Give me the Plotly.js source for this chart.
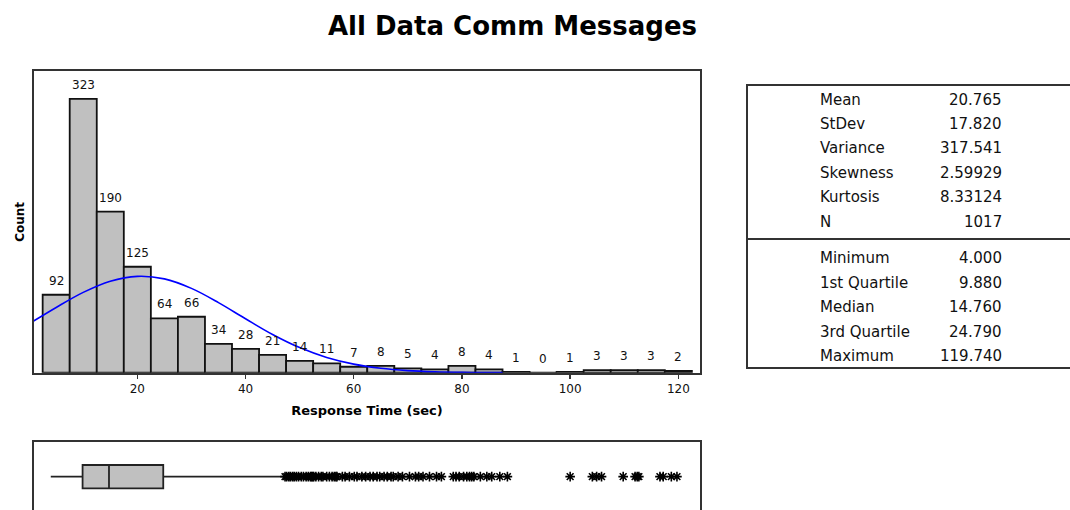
<!DOCTYPE html>
<html>
<head>
<meta charset="utf-8">
<script src="https://cdn.plot.ly/plotly-3.0.1.min.js"></script>
<style>html,body{margin:0;padding:0;background:#fff;}#chart{width:1070px;height:510px;}</style>
</head>
<body>
<div id="chart"></div>
<script>
// ---- data ----
const binCenters = [5,10,15,20,25,30,35,40,45,50,55,60,65,70,75,80,85,90,95,100,105,110,115,120];
const binCounts  = [92,323,190,125,64,66,34,28,21,14,11,7,8,5,4,8,4,1,0,1,3,3,3,2];

const curveX = [0,5,10,15,20,25,30,35,40,45,50,55,60,65,70,75,80,85,87.5];
const curveY = [57.7,77.0,94.8,108.0,113.7,110.7,99.5,82.7,63.6,45.1,29.6,18.0,10.1,5.2,2.5,1.1,0.45,0.15,0.1];

const boxMin = [4.0];
const boxQ1 = [9.88];
const boxMedian = [14.76];
const boxQ3 = [24.79];
const boxUpperWhisker = [46.7];

const outliers = [47.3,47.6,48.0,48.3,48.7,49.0,49.4,49.8,50.3,50.7,51.2,51.6,52.0,52.2,52.4,
  52.6,53.0,53.5,54.0,54.3,55.0,55.5,56.0,56.4,56.7,56.9,
  57.9,58.4,59.2,60.1,60.6,61.5,62.2,
  63.0,63.6,64.3,64.8,65.6,66.2,66.9,67.3,
  68.2,69.0,70.3,71.4,72.0,
  72.8,74.0,75.3,76.2,
  78.4,78.9,79.5,80.3,80.9,81.4,81.8,82.2,
  83.4,84.6,85.5,87.0,
  88.4,
  100.0,
  104.1,104.9,105.8,
  109.8,112.0,112.4,
  112.7,116.6,117.2,
  118.7,119.74];

const statLabels1 = ["Mean","StDev","Variance","Skewness","Kurtosis","N"];
const statValues1 = ["20.765","17.820","317.541","2.59929","8.33124","1017"];
const statLabels2 = ["Minimum","1st Quartile","Median","3rd Quartile","Maximum"];
const statValues2 = ["4.000","9.880","14.760","24.790","119.740"];

const chartTitle = "All Data Comm Messages";
const xTitle = "Response Time (sec)";
const yTitle = "Count";
const xTickVals = [20,40,60,80,100,120];

// ---- layout helpers (pixel -> paper) ----
const W = 1070, H = 510;
const px = v => v / W;
const py = v => 1 - v / H;
const FONT = "DejaVu Sans, Verdana, sans-serif";
const INK = "#111";
const FRAME = "#333";

const traces = [
  {
    type: "bar", x: binCenters, y: binCounts, width: 5,
    marker: {color: "#c0c0c0", line: {color: "#111", width: 1.8}},
    hoverinfo: "x+y", xaxis: "x", yaxis: "y"
  },
  {
    type: "scatter", mode: "lines", x: curveX, y: curveY,
    line: {color: "#0000ff", width: 1.6, shape: "spline"},
    xaxis: "x", yaxis: "y", cliponaxis: true
  },
  {
    type: "box", orientation: "h", y: [0],
    q1: boxQ1, median: boxMedian, q3: boxQ3,
    lowerfence: boxMin, upperfence: boxUpperWhisker,
    width: 0.7, whiskerwidth: 0, boxpoints: false,
    fillcolor: "#c0c0c0", line: {color: "#222", width: 1.8},
    xaxis: "x2", yaxis: "y2"
  },
  {
    type: "scatter", mode: "markers", x: outliers, y: outliers.map(() => 0),
    marker: {symbol: "asterisk-open", size: 8, color: "#000", line: {color: "#000", width: 1.6}},
    xaxis: "x2", yaxis: "y2"
  }
];

const annotations = [];
binCenters.forEach((c, i) => {
  annotations.push({
    x: c, y: binCounts[i], xref: "x", yref: "y", text: String(binCounts[i]),
    showarrow: false, yanchor: "middle", xanchor: "center", yshift: 14,
    font: {family: FONT, size: 12, color: INK}
  });
});

const rows1 = [100, 124.3, 148, 173, 197.5, 221.5];
const rows2 = [257.5, 283, 307.3, 331.5, 356];
function addStats(labels, values, rows) {
  labels.forEach((l, i) => {
    annotations.push({x: px(818), y: py(rows[i]), xref: "paper", yref: "paper", text: l,
      showarrow: false, xanchor: "left", yanchor: "middle", font: {family: FONT, size: 15, color: INK}});
    annotations.push({x: px(1004), y: py(rows[i]), xref: "paper", yref: "paper", text: values[i],
      showarrow: false, xanchor: "right", yanchor: "middle", font: {family: FONT, size: 15, color: INK}});
  });
}
addStats(statLabels1, statValues1, rows1);
addStats(statLabels2, statValues2, rows2);

const shapes = [
  {type: "rect", xref: "paper", yref: "paper", x0: px(747), x1: px(1085), y0: py(368), y1: py(85),
   line: {color: FRAME, width: 2}, fillcolor: "rgba(0,0,0,0)"},
  {type: "line", xref: "paper", yref: "paper", x0: px(747), x1: px(1085), y0: py(239), y1: py(239),
   line: {color: FRAME, width: 2}}
];

const layout = {
  width: W, height: H,
  margin: {l: 0, r: 0, t: 0, b: 0, pad: 0},
  paper_bgcolor: "#fff", plot_bgcolor: "#fff",
  showlegend: false,
  font: {family: FONT, color: INK},
  title: {text: chartTitle, x: px(512.5), xanchor: "center", xref: "paper", y: py(26), yanchor: "middle",
          font: {family: FONT, size: 26, weight: "bold", color: "#000"}},
  bargap: 0,
  xaxis: {
    domain: [px(34), px(700)], range: [0.9, 124.0], anchor: "y",
    tickvals: xTickVals, ticks: "outside", ticklen: 4, tickwidth: 1.5, tickcolor: FRAME,
    tickfont: {family: FONT, size: 12, color: INK},
    showline: true, mirror: true, linecolor: FRAME, linewidth: 2,
    showgrid: false, zeroline: false,
    title: {text: xTitle, standoff: 11, font: {family: FONT, size: 13, weight: "bold", color: "#000"}}
  },
  yaxis: {
    domain: [py(372.7), py(71)], range: [0, 356], anchor: "x",
    showticklabels: false, ticks: "",
    showline: true, mirror: true, linecolor: FRAME, linewidth: 2,
    showgrid: false, zeroline: false,
    title: {text: yTitle, standoff: 5, font: {family: FONT, size: 12, weight: "bold", color: "#000"}}
  },
  xaxis2: {
    domain: [px(34), px(700)], range: [0.9, 124.0], anchor: "y2", side: "top",
    showticklabels: false, ticks: "",
    showline: true, linecolor: FRAME, linewidth: 2,
    showgrid: false, zeroline: false
  },
  yaxis2: {
    domain: [0, py(442.3)], range: [-1, 1.03], anchor: "x2",
    showticklabels: false, ticks: "",
    showline: true, mirror: true, linecolor: FRAME, linewidth: 2,
    showgrid: false, zeroline: false
  },
  annotations: annotations,
  shapes: shapes
};

Plotly.newPlot("chart", traces, layout, {staticPlot: true, displayModeBar: false});
</script>
</body>
</html>
